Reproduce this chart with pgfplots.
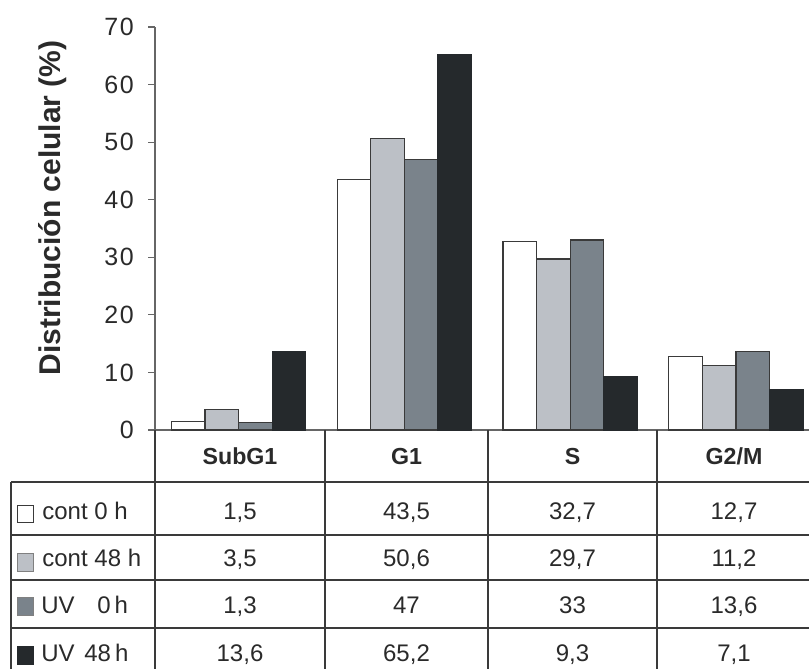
\documentclass[border=0pt]{standalone}
\usepackage{pgfplots}
\pgfplotsset{compat=1.18}
\usepackage{pgfplotstable}
\usepackage{fontspec}
\setmainfont{Liberation Sans}
\definecolor{cA}{HTML}{FFFFFF}
\definecolor{cB}{HTML}{BCC0C6}
\definecolor{cC}{HTML}{7A838B}
\definecolor{cD}{HTML}{25292C}
\definecolor{txt}{HTML}{2A2A2A}
\definecolor{ln}{HTML}{3A3A3A}
\definecolor{ax}{HTML}{666666}
\pgfplotstableread{
x cont0 cont48 uv0 uv48
0 1.5 3.5 1.3 13.6
1 43.5 50.6 47 65.2
2 32.7 29.7 33 9.3
3 12.7 11.2 13.6 7.1
}\data
\begin{document}
\begin{tikzpicture}
\useasboundingbox (0,0) rectangle (404.5pt,334.5pt);
\begin{axis}[at={(77.5pt,119.5pt)}, anchor=south west, scale only axis,
  width=327pt, height=201.5pt,
  ymin=0, ymax=70, xmin=-0.504, xmax=3.44,
  ybar=0pt, bar width=16.8pt,
  axis x line*=bottom, axis y line*=left,
  axis line style={ax, line width=0.6pt},
  xtick=\empty, ytick={0,10,...,70},
  tick align=outside, major tick length=3.5pt,
  tick style={ax, line width=0.6pt},
  yticklabel style={font=\fontsize{12.5}{14}\selectfont\addfontfeature{LetterSpace=6}, text=txt, xshift=-3.6pt},
  /pgf/number format/assume math mode=true,
  ylabel={Distribución celular (\%)},
  ylabel style={font=\fontsize{15}{18}\selectfont\bfseries, text=txt,
    at={(axis description cs:-0.156,0.551)}, anchor=center},
  clip=false]
\addplot[fill=cA, draw=ln, line width=0.6pt] table[x=x,y=cont0]{\data};
\addplot[fill=cB, draw=ln, line width=0.6pt] table[x=x,y=cont48]{\data};
\addplot[fill=cC, draw=ln, line width=0.6pt] table[x=x,y=uv0]{\data};
\addplot[fill=cD, draw=cD, line width=0.6pt] table[x=x,y=uv48]{\data};
\end{axis}
\begin{scope}[x=0.5pt,y=-0.5pt,shift={(0,334.5pt)}]
  \draw[ln, line width=0.6pt] (11,482) -- (809,482) (11,535) -- (809,535)
     (11,580) -- (809,580) (11,628) -- (809,628);
  \draw[ln, line width=0.6pt] (11,482) -- (11,669) (155,430) -- (155,669)
     (325,430) -- (325,669) (488,430) -- (488,669) (657,430) -- (657,669);
  \begin{scope}[every node/.style={anchor=base, text=txt, inner sep=0pt, font=\fontsize{11.6}{13}\selectfont\bfseries}]
    \node at (240,465) {SubG1};
    \node at (406.5,465) {G1};
    \node at (572.5,465) {S};
    \node at (734,465) {G2/M};
  \end{scope}
  \begin{scope}[every node/.style={anchor=base, text=txt, inner sep=0pt, font=\fontsize{12}{14}\selectfont}]
    \node at (240,520) {1,5};   \node at (406.5,520) {43,5}; \node at (572.5,520) {32,7}; \node at (734,520) {12,7};
    \node at (240,567) {3,5};   \node at (406.5,567) {50,6}; \node at (572.5,567) {29,7}; \node at (734,567) {11,2};
    \node at (240,614) {1,3};   \node at (406.5,614) {47};   \node at (572.5,614) {33};   \node at (734,614) {13,6};
    \node at (240,662) {13,6};  \node at (406.5,662) {65,2}; \node at (572.5,662) {9,3};  \node at (734,662) {7,1};
  \end{scope}
  \begin{scope}[every node/.style={anchor=base west, text=txt, inner sep=0pt, font=\fontsize{12}{14}\selectfont}]
    \node at (42,520) {cont 0 h};
    \node at (42,567) {cont 48 h};
    \node at (41,614) {UV}; \node at (97,614) {0\,h};
    \node at (41,662) {UV}; \node at (84,662) {48\,h};
  \end{scope}
  \draw[ln, line width=0.5pt, fill=cA] (17,506) rectangle (33,523);
  \draw[gray, line width=0.5pt, fill=cB] (17,554) rectangle (33,572);
  \draw[gray, line width=0.5pt, fill=cC] (17,598) rectangle (33,616);
  \draw[cD, line width=0.5pt, fill=cD] (17,647) rectangle (33,665);
\end{scope}
\end{tikzpicture}
\end{document}
